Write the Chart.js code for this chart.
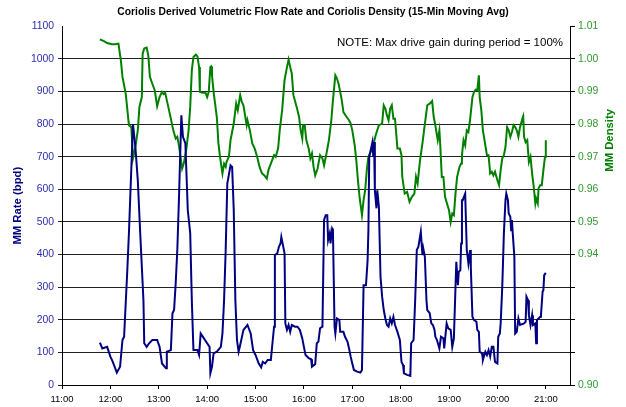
<!DOCTYPE html>
<html><head><meta charset="utf-8">
<script src="https://cdn.jsdelivr.net/npm/chart.js@4.4.0/dist/chart.umd.min.js"></script>
<style>html,body{margin:0;padding:0;background:#fff;}#wrap{width:626px;height:407px;}</style>
</head><body><div id="wrap"><canvas id="c" width="626" height="407"></canvas></div>
<script>
const chartTitle = "Coriolis Derived Volumetric Flow Rate and Coriolis Density (15-Min Moving Avg)";
const noteText = "NOTE: Max drive gain during period = 100%";
const rateLabel = "MM Rate (bpd)";
const densityLabel = "MM Density";
const hiddenDensityTicks = ["0.91", "0.92", "0.93"];

const rateTimes = ["11:47","11:50","11:56","12:00","12:03","12:08","12:12","12:15","12:17","12:19","12:21","12:23","12:28","12:31","12:34","12:37","12:41","12:42","12:45","12:48","12:52","12:58","13:01","13:04","13:09","13:10","13:15","13:17","13:19","13:21","13:23","13:25","13:28","13:30","13:33","13:36","13:39","13:41","13:43","13:48","13:50","13:52","13:56","14:00","14:03","14:04","14:06","14:08","14:12","14:17","14:19","14:21","14:23","14:25","14:29","14:31","14:33","14:35","14:37","14:39","14:41","14:45","14:50","14:54","14:57","15:00","15:04","15:07","15:09","15:12","15:15","15:19","15:21","15:23","15:24","15:27","15:29","15:31","15:32","15:34","15:36","15:37","15:39","15:41","15:43","15:45","15:49","15:52","15:55","15:58","16:00","16:02","16:06","16:09","16:10","16:14","16:16","16:18","16:20","16:23","16:25","16:27","16:29","16:30","16:32","16:33","16:35","16:36","16:38","16:39","16:41","16:44","16:45","16:49","16:51","16:54","16:56","16:58","17:00","17:02","17:06","17:10","17:12","17:14","17:17","17:19","17:20","17:21","17:25","17:26","17:27","17:28","17:30","17:31","17:33","17:35","17:37","17:39","17:41","17:43","17:45","17:47","17:49","17:51","17:53","17:56","17:59","18:01","18:03","18:04","18:08","18:12","18:13","18:16","18:18","18:20","18:22","18:25","18:27","18:28","18:30","18:32","18:33","18:36","18:38","18:40","18:42","18:43","18:45","18:48","18:50","18:53","18:54","18:57","18:59","19:02","19:04","19:06","19:08","19:09","19:11","19:12","19:14","19:15","19:16","19:17","19:20","19:22","19:24","19:26","19:27","19:29","19:31","19:34","19:35","19:37","19:38","19:41","19:42","19:45","19:47","19:49","19:51","19:53","19:55","19:57","20:00","20:01","20:03","20:04","20:06","20:08","20:10","20:11","20:13","20:14","20:16","20:17","20:18","20:19","20:21","20:22","20:24","20:26","20:28","20:33","20:35","20:36","20:38","20:39","20:41","20:43","20:44","20:47","20:48","20:49","20:51","20:53","20:54","20:56","20:57","20:58","21:00"];
const rateValues = [130,112,117,87,71,38,56,138,148,250,352,466,800,730,628,466,260,128,117,128,138,138,117,66,51,102,107,220,230,312,414,567,827,761,741,536,466,260,107,107,92,158,143,128,117,36,56,97,102,117,158,260,414,618,674,669,536,260,138,102,123,169,184,158,107,92,66,54,71,66,77,77,128,179,398,404,424,434,454,429,404,189,169,184,163,184,179,179,169,143,117,92,82,79,56,64,128,133,174,179,506,521,521,444,465,434,480,475,179,158,204,199,163,163,148,133,112,87,66,46,41,38,46,306,306,383,475,700,745,700,745,597,542,597,546,332,271,230,204,184,179,204,189,209,184,163,138,71,61,36,31,28,128,138,260,414,424,470,398,419,393,260,230,220,189,184,169,148,138,112,148,143,112,189,174,169,117,143,301,378,306,347,352,434,567,567,587,414,373,414,362,209,199,194,169,163,102,97,77,102,92,107,87,117,117,71,66,148,158,189,301,465,567,587,567,526,516,475,506,465,393,158,163,204,184,189,194,271,260,214,184,214,184,189,128,199,204,209,214,286,291,337,344];

const densityTimes = ["11:47","11:52","11:56","12:02","12:06","12:10","12:13","12:15","12:19","12:23","12:26","12:28","12:31","12:34","12:36","12:39","12:40","12:42","12:45","12:47","12:49","12:52","12:55","12:58","13:01","13:04","13:06","13:08","13:10","13:15","13:18","13:21","13:23","13:25","13:27","13:29","13:31","13:34","13:37","13:39","13:41","13:43","13:46","13:48","13:50","13:51","13:54","13:58","14:00","14:02","14:04","14:05","14:06","14:08","14:12","14:14","14:16","14:19","14:21","14:23","14:24","14:27","14:29","14:33","14:36","14:38","14:41","14:43","14:45","14:49","14:50","14:53","14:56","14:59","15:02","15:05","15:08","15:11","15:14","15:16","15:19","15:23","15:25","15:28","15:30","15:33","15:36","15:39","15:41","15:43","15:45","15:47","15:51","15:54","15:56","15:58","15:59","16:01","16:03","16:06","16:08","16:10","16:12","16:14","16:17","16:20","16:23","16:25","16:28","16:31","16:34","16:36","16:39","16:41","16:43","16:45","16:47","16:49","16:53","16:56","16:58","17:00","17:03","17:05","17:07","17:09","17:12","17:14","17:16","17:18","17:20","17:25","17:29","17:33","17:37","17:39","17:41","17:43","17:45","17:47","17:49","17:51","17:53","17:56","17:59","18:01","18:02","18:05","18:08","18:11","18:14","18:17","18:19","18:21","18:24","18:27","18:29","18:33","18:36","18:39","18:41","18:43","18:44","18:46","18:48","18:49","18:51","18:53","18:55","18:58","19:00","19:02","19:04","19:06","19:08","19:10","19:13","19:15","19:16","19:18","19:20","19:22","19:24","19:26","19:29","19:31","19:33","19:35","19:37","19:38","19:40","19:42","19:45","19:47","19:49","19:51","19:53","19:55","19:57","20:00","20:02","20:04","20:06","20:08","20:10","20:12","20:14","20:16","20:18","20:20","20:22","20:24","20:26","20:28","20:31","20:32","20:33","20:35","20:37","20:39","20:41","20:43","20:45","20:47","20:48","20:50","20:51","20:53","20:55","20:57","20:59","21:00"];
const densityValues = [1.0060,1.0055,1.0049,1.0045,1.0045,1.0047,0.9996,0.9945,0.9894,0.9797,0.9791,0.9695,0.9730,0.9781,0.9853,0.9883,1.0016,1.0032,1.0035,1.0011,0.9945,0.9924,0.9904,0.9855,0.9883,0.9899,0.9892,0.9896,0.9873,0.9817,0.9781,0.9756,0.9761,0.9735,0.9700,0.9664,0.9679,0.9720,0.9781,0.9853,0.9965,1.0006,1.0013,1.0008,0.9975,0.9899,0.9896,0.9896,0.9883,0.9899,0.9975,0.9977,0.9950,0.9899,0.9822,0.9741,0.9700,0.9649,0.9679,0.9669,0.9684,0.9700,0.9751,0.9802,0.9863,0.9843,0.9889,0.9868,0.9858,0.9797,0.9812,0.9781,0.9741,0.9725,0.9700,0.9669,0.9649,0.9643,0.9633,0.9659,0.9679,0.9705,0.9700,0.9725,0.9781,0.9843,0.9935,0.9975,0.9998,0.9975,0.9955,0.9889,0.9853,0.9822,0.9781,0.9756,0.9797,0.9797,0.9751,0.9725,0.9695,0.9710,0.9669,0.9643,0.9664,0.9705,0.9695,0.9674,0.9710,0.9751,0.9812,0.9873,0.9950,0.9940,0.9924,0.9899,0.9873,0.9837,0.9822,0.9812,0.9802,0.9781,0.9735,0.9689,0.9628,0.9577,0.9521,0.9567,0.9598,0.9659,0.9700,0.9726,0.9766,0.9797,0.9802,0.9858,0.9848,0.9827,0.9812,0.9848,0.9858,0.9817,0.9817,0.9725,0.9725,0.9705,0.9638,0.9587,0.9592,0.9562,0.9577,0.9587,0.9638,0.9618,0.9689,0.9741,0.9781,0.9858,0.9863,0.9871,0.9822,0.9797,0.9781,0.9751,0.9781,0.9741,0.9638,0.9638,0.9577,0.9552,0.9536,0.9500,0.9526,0.9521,0.9587,0.9638,0.9669,0.9679,0.9705,0.9751,0.9735,0.9781,0.9776,0.9812,0.9883,0.9899,0.9906,0.9904,0.9950,0.9883,0.9843,0.9781,0.9735,0.9705,0.9705,0.9649,0.9654,0.9643,0.9654,0.9628,0.9613,0.9659,0.9695,0.9705,0.9730,0.9791,0.9781,0.9761,0.9776,0.9797,0.9791,0.9781,0.9761,0.9791,0.9817,0.9824,0.9761,0.9745,0.9751,0.9684,0.9700,0.9649,0.9608,0.9557,0.9572,0.9557,0.9603,0.9613,0.9613,0.9659,0.9700,0.9751];

const FONT = '"Liberation Sans", Arial, sans-serif';
function toHours(s){ const p = s.split(':'); return +p[0] + (+p[1])/60; }
function fmtHour(v){ const h = Math.floor(v+1e-9); return (h<10?'0':'')+h+':00'; }

const rateData = rateTimes.map((t,i)=>({x: toHours(t), y: rateValues[i]}));
const densityData = densityTimes.map((t,i)=>({x: toHours(t), y: densityValues[i]}));

const extraText = {
  id: 'extraText',
  afterDraw(chart){
    const {ctx, chartArea} = chart;
    ctx.save();
    ctx.font = '11.5px ' + FONT;
    ctx.fillStyle = '#000';
    ctx.textAlign = 'right';
    ctx.textBaseline = 'middle';
    ctx.fillText(noteText, chartArea.right - 7, chartArea.top + 16);
    ctx.translate(chart.width - 16, chartArea.top + 114);
    ctx.rotate(-Math.PI/2);
    ctx.font = 'bold 11.3px ' + FONT;
    ctx.fillStyle = '#008000';
    ctx.textAlign = 'center';
    ctx.fillText(densityLabel, 0, 0);
    ctx.restore();
  }
};

new Chart(document.getElementById('c'), {
  type: 'line',
  data: {
    datasets: [
      {label: rateLabel, data: rateData, yAxisID: 'y', borderColor: '#000080', backgroundColor: '#000080', borderWidth: 2, pointRadius: 0, tension: 0, fill: false},
      {label: densityLabel, data: densityData, yAxisID: 'y1', borderColor: '#008000', backgroundColor: '#008000', borderWidth: 2, pointRadius: 0, tension: 0, fill: false}
    ]
  },
  options: {
    responsive: false, animation: false, devicePixelRatio: 1,
    layout: {padding: 0},
    plugins: {
      legend: {display: false},
      tooltip: {enabled: false},
      title: {display: true, text: chartTitle, color: '#000', font: {family: FONT, size: 10.3, weight: 'bold'}, padding: {top: 6, bottom: 8}}
    },
    scales: {
      x: {
        type: 'linear', min: 11, max: 21.5,
        ticks: {stepSize: 1, includeBounds: false, callback: v => fmtHour(v), color: '#000', font: {family: FONT, size: 9.5}, maxRotation: 0, padding: 5, autoSkip: false},
        grid: {drawOnChartArea: false, tickLength: 4, color: '#000'},
        border: {color: '#000', width: 1},
        afterFit(s){ s.height = 22; }
      },
      y: {
        position: 'left', min: 0, max: 1100,
        ticks: {stepSize: 100, color: '#2b2bb0', font: {family: FONT, size: 10.4}, padding: 4, callback: v => String(v)},
        grid: {color: ctx => (ctx.tick && ctx.tick.value === 1100) ? 'rgba(0,0,0,0)' : '#222', tickLength: 4, lineWidth: 1},
        border: {color: '#000', width: 1},
        title: {display: true, text: rateLabel, color: '#000080', font: {family: FONT, size: 11.3, weight: 'bold'}, padding: {top: 11, bottom: 0}},
        afterFit(s){ s.width = 62; }
      },
      y1: {
        position: 'right', min: 0.90, max: 1.01,
        ticks: {stepSize: 0.01, color: '#2f9a2f', font: {family: FONT, size: 10.4}, padding: 3,
          callback: v => { const s = v.toFixed(2); return hiddenDensityTicks.includes(s) ? '' : s; }},
        grid: {drawOnChartArea: false, tickLength: 5, color: '#000'},
        border: {color: '#000', width: 1},
        afterFit(s){ s.width = 56; }
      }
    }
  },
  plugins: [extraText]
});
</script></body></html>
